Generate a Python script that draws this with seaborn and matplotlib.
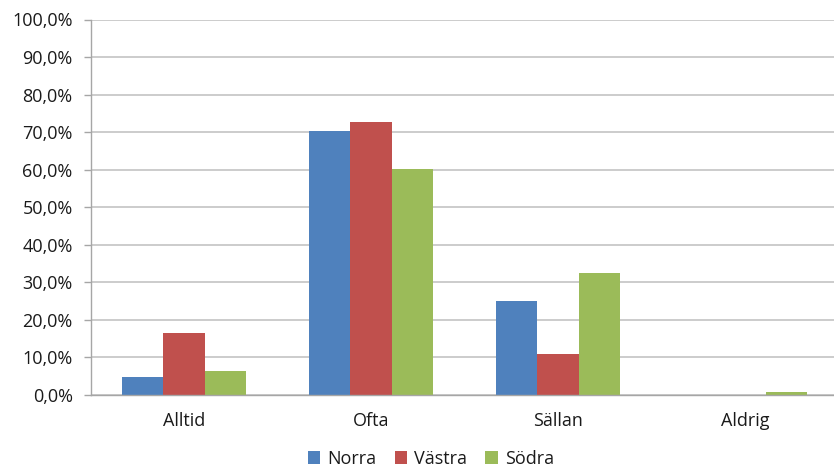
import matplotlib
matplotlib.use("Agg")
import matplotlib.pyplot as plt
from matplotlib.ticker import FuncFormatter, MultipleLocator, FixedLocator
from matplotlib.patches import Patch
import seaborn as sns
import pandas as pd

# Survey answers per region (share of respondents, %)
categories = ["Alltid", "Ofta", "Sällan", "Aldrig"]
regions = ["Norra", "Västra", "Södra"]
norra = [4.9, 70.3, 25.0, 0.0]
vastra = [16.4, 72.7, 11.0, 0.0]
sodra = [6.5, 60.1, 32.6, 0.8]
colors = ["#4F81BD", "#C0504D", "#9BBB59"]

df = pd.DataFrame({
    "Svar": categories * 3,
    "Region": [r for r in regions for _ in categories],
    "Andel": norra + vastra + sodra,
})

sns.set_theme(style="white")
plt.rcParams["font.family"] = ["Open Sans", "DejaVu Sans"]

W, H = 834, 468
fig = plt.figure(figsize=(W / 100, H / 100), dpi=100)
left, right, top, bottom = 90.7, 838.6, 19.5, 395.0
ax = fig.add_axes([left / W, (H - bottom) / H, (right - left) / W, (bottom - top) / H])

sns.barplot(data=df, x="Svar", y="Andel", hue="Region", order=categories,
            hue_order=regions, palette=colors, width=0.665, saturation=1,
            linewidth=0, ax=ax, legend=False)

ax.set_ylim(0, 100)
ax.set_xlim(-0.5, 3.5)
ax.yaxis.set_major_locator(MultipleLocator(10))
ax.yaxis.set_major_formatter(FuncFormatter(lambda v, _: f"{v:.1f}%".replace(".", ",")))
ax.grid(axis="y", color="#BFBFBF", linewidth=1.1)
ax.set_axisbelow(True)

for s in ["top", "right"]:
    ax.spines[s].set_visible(False)
for s in ["left", "bottom"]:
    ax.spines[s].set_color("#A6A6A6")
    ax.spines[s].set_linewidth(1.0)

text_color = "#1A1A1A"
ax.xaxis.set_minor_locator(FixedLocator([-0.5, 0.5, 1.5, 2.5, 3.5]))
ax.tick_params(axis="x", which="major", length=0, pad=12, labelsize=13, colors=text_color)
ax.tick_params(axis="x", which="minor", length=5, color="#A6A6A6", width=1)
ax.tick_params(axis="y", which="major", left=True, length=5, color="#A6A6A6", width=1,
               pad=8, labelsize=13, labelcolor=text_color)
ax.set_xlabel("")
ax.set_ylabel("")

handles = [Patch(facecolor=c, edgecolor="none", label=r) for c, r in zip(colors, regions)]
fig.legend(handles=handles, loc="center", bbox_to_anchor=(431 / W, 1 - 459 / H), ncol=3,
           frameon=False, fontsize=13, labelcolor=text_color, handlelength=0.7,
           handleheight=0.7, handletextpad=0.4, columnspacing=1.0)

fig.savefig("out.png", dpi=100)
